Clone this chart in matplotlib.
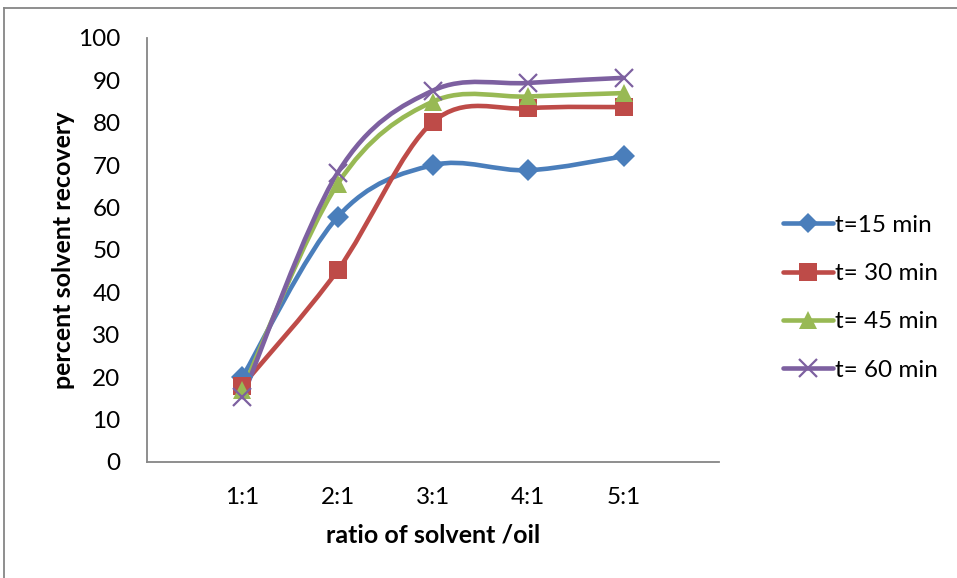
import matplotlib
matplotlib.use("Agg")
import matplotlib.pyplot as plt
from matplotlib.lines import Line2D
from matplotlib.patches import PathPatch
from matplotlib.path import Path

plt.rcParams["font.family"] = ["Lato", "DejaVu Sans"]

ratios = ["1:1", "2:1", "3:1", "4:1", "5:1"]
ratio_x = [1, 2, 3, 4, 5]

t15 = [20, 57.8, 70, 68.8, 72.1]
t30 = [18, 45.2, 80.2, 83.4, 83.7]
t45 = [17, 65.6, 85, 86.2, 87]
t60 = [15.3, 68.2, 87.6, 89.4, 90.6]

series = [
    ("t=15 min", t15, "#4A7EBB", "D", 11),
    ("t= 30 min", t30, "#BE4B48", "s", 13),
    ("t= 45 min", t45, "#98B954", "^", 13),
    ("t= 60 min", t60, "#7D60A0", "x", 13),
]


def smooth_path(xs, ys):
    # Excel-style smoothed line: Catmull-Rom segments as cubic Beziers
    pts = list(zip(xs, ys))
    verts = [pts[0]]
    codes = [Path.MOVETO]
    n = len(pts)
    for i in range(n - 1):
        p0 = pts[max(i - 1, 0)]
        p1 = pts[i]
        p2 = pts[i + 1]
        p3 = pts[min(i + 2, n - 1)]
        c1 = (p1[0] + (p2[0] - p0[0]) / 6, p1[1] + (p2[1] - p0[1]) / 6)
        c2 = (p2[0] - (p3[0] - p1[0]) / 6, p2[1] - (p3[1] - p1[1]) / 6)
        verts += [c1, c2, p2]
        codes += [Path.CURVE4] * 3
    return Path(verts, codes)


fig = plt.figure(figsize=(9.57, 5.78), dpi=100)
ax = fig.add_axes([0.1536, 0.2007, 0.5977, 0.7336])

handles = []
for label, values, color, marker, size in series:
    patch = PathPatch(smooth_path(ratio_x, values), facecolor="none", edgecolor=color,
                      linewidth=3.3, capstyle="round", joinstyle="round", zorder=2)
    ax.add_patch(patch)
    mew = 1.6 if marker == "x" else 0
    ax.plot(ratio_x, values, linestyle="none", marker=marker, markersize=size,
            color=color, markeredgecolor=color, markeredgewidth=mew, zorder=3)
    handles.append(Line2D([], [], color=color, linewidth=3.3, marker=marker,
                          markersize=size * 0.95, markeredgewidth=mew,
                          solid_capstyle="round", label=label))

ax.set_xlim(0, 6)
ax.set_ylim(0, 100)
ax.set_xticks(ratio_x)
ax.set_xticklabels(ratios)
ax.set_yticks(range(0, 101, 10))
ax.tick_params(axis="both", length=0, labelsize=17.5)
ax.tick_params(axis="y", pad=19)
ax.tick_params(axis="x", pad=18)

for side in ["top", "right"]:
    ax.spines[side].set_visible(False)
for side in ["left", "bottom"]:
    ax.spines[side].set_color("#868686")
    ax.spines[side].set_linewidth(1.3)

ax.set_xlabel("ratio of solvent /oil", fontsize=18, fontweight="bold", labelpad=11)
ax.set_ylabel("percent solvent recovery", fontsize=18, fontweight="bold", labelpad=2)

fig.legend(handles=handles, loc="upper left", bbox_to_anchor=(0.808, 0.645),
           frameon=False, fontsize=17.5, handlelength=2.05, handletextpad=0.1,
           labelspacing=1.12, borderaxespad=0)

# outer chart border (right and bottom cut off)
fig.add_artist(Line2D([4 / 957, 4 / 957], [0, 1 - 8 / 578], color="#868686", linewidth=1.3))
fig.add_artist(Line2D([4 / 957, 1], [1 - 8 / 578, 1 - 8 / 578], color="#868686", linewidth=1.3))

fig.savefig("out.png", dpi=100)
